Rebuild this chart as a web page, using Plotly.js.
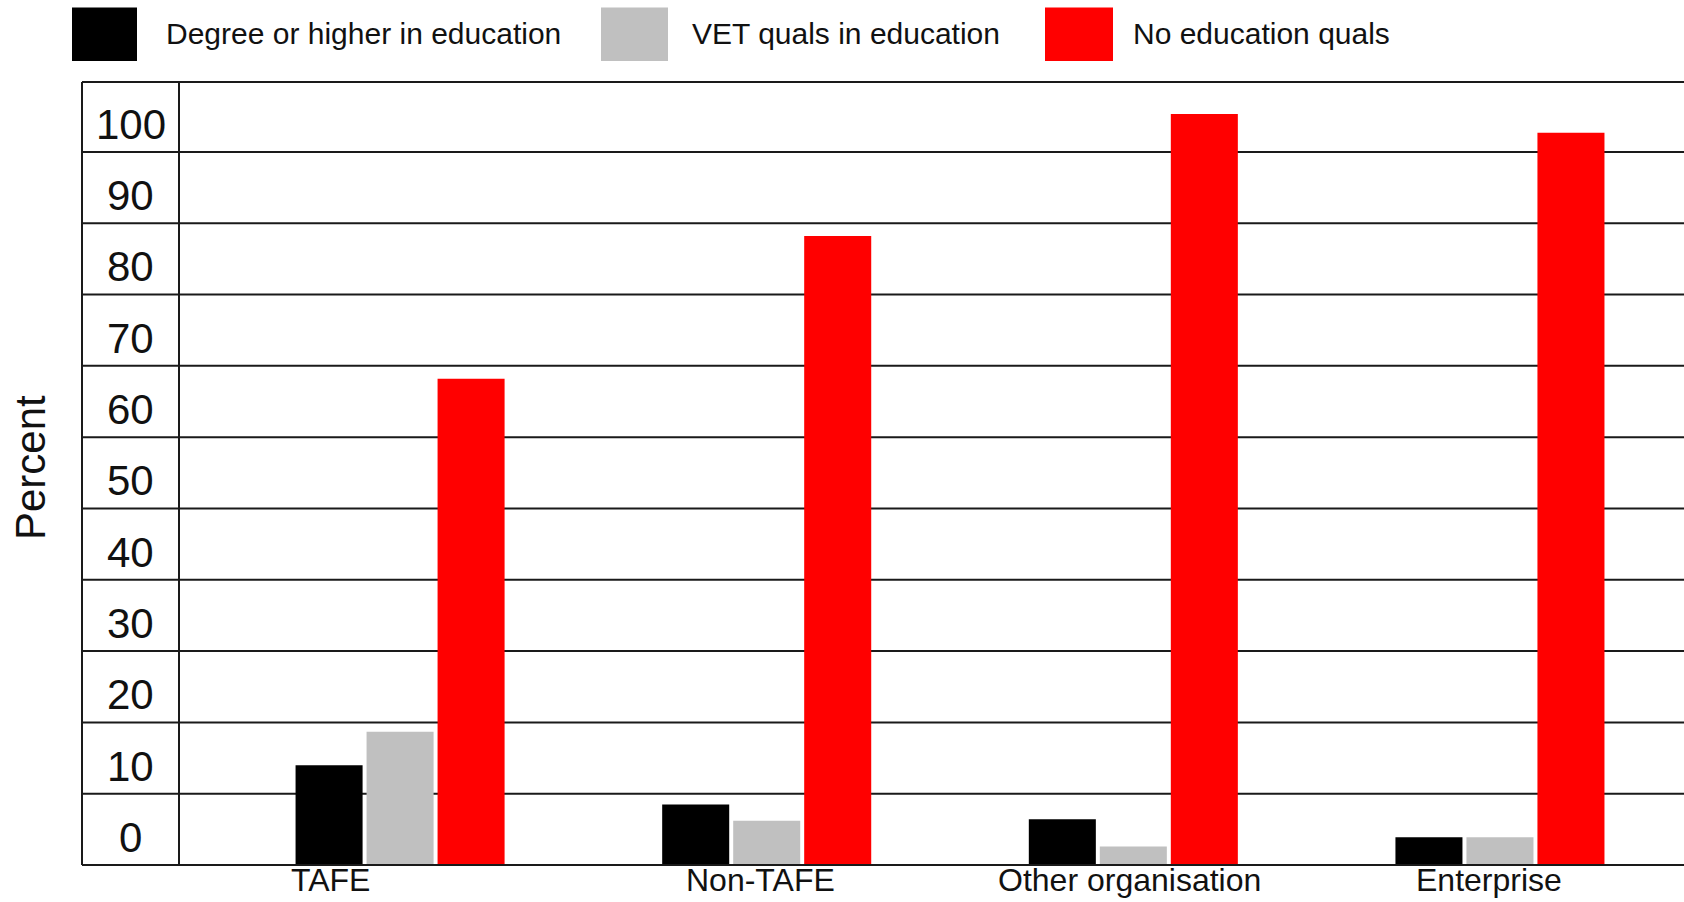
<!DOCTYPE html>
<html>
<head>
<meta charset="utf-8">
<script src="https://cdn.plot.ly/plotly-3.0.1.min.js"></script>
<style>html,body{margin:0;padding:0;background:#fff;}#chart{width:1684px;height:902px;}</style>
</head>
<body>
<div id="chart"></div>
<script>
// ---- data ----
const categories = ["TAFE", "Non-TAFE", "Other organisation", "Enterprise"];
const seriesNames = ["Degree or higher in education", "VET quals in education", "No education quals"];
const degreeValues = [14.0, 8.5, 6.4, 3.9];
const vetValues = [18.7, 6.2, 2.6, 3.9];
const noQualValues = [68.2, 88.2, 105.3, 102.7];
const yTickValues = [0, 10, 20, 30, 40, 50, 60, 70, 80, 90, 100];
const yTickLabels = ["0", "10", "20", "30", "40", "50", "60", "70", "80", "90", "100"];
const yAxisTitle = "Percent";

// ---- style ----
const colors = ["#000000", "#c0c0c0", "#ff0000"];
const FONT = "Liberation Sans, Arial, Helvetica, sans-serif";
const W = 1684, H = 902;
const M = {l: 179, r: 0, t: 82, b: 37};
const plotW = W - M.l - M.r, plotH = H - M.t - M.b;
const px = x => (x - M.l) / plotW;        // page px -> paper x
const py = y => (H - M.b - y) / plotH;    // page px -> paper y
const lineCol = "#1a1a1a";
const colLeft = px(82);
const catLabelShift = [-70, -6, -4, -11];  // horizontal nudges of category labels (px)

const values = [degreeValues, vetValues, noQualValues];
const traces = values.map((v, i) => ({
  type: "bar", x: categories, y: v, name: seriesNames[i],
  marker: {color: colors[i], line: {width: 0}}, showlegend: false, hoverinfo: "skip"
}));

const shapes = [];
// horizontal grid lines extending into the label column
yTickValues.forEach(v => {
  if (v === 0) return;
  shapes.push({type: "line", xref: "paper", yref: "y", x0: colLeft, x1: 1, y0: v, y1: v,
    line: {color: lineCol, width: 2}, layer: "below"});
});
// bottom and top frame
shapes.push({type: "line", xref: "paper", yref: "paper", x0: colLeft, x1: 1, y0: 0, y1: 0, line: {color: lineCol, width: 2}, layer: "above"});
shapes.push({type: "line", xref: "paper", yref: "paper", x0: colLeft, x1: 1, y0: 1, y1: 1, line: {color: lineCol, width: 2}, layer: "above"});
// label column vertical lines
shapes.push({type: "line", xref: "paper", yref: "paper", x0: colLeft, x1: colLeft, y0: 0, y1: 1, line: {color: lineCol, width: 2}});
shapes.push({type: "line", xref: "paper", yref: "paper", x0: 0, x1: 0, y0: 0, y1: 1, line: {color: lineCol, width: 2}});

// legend (drawn manually for large swatches)
const legendSw = [[72, 137], [601, 668], [1045, 1113]];
const legendTx = [164, 690, 1131];
const annotations = [];
seriesNames.forEach((n, i) => {
  shapes.push({type: "rect", xref: "paper", yref: "paper", x0: px(legendSw[i][0]), x1: px(legendSw[i][1]),
    y0: py(61), y1: py(7.5), fillcolor: colors[i], line: {width: 0}});
  annotations.push({xref: "paper", yref: "paper", x: px(legendTx[i]), y: py(34), xanchor: "left", yanchor: "middle",
    text: n, showarrow: false, font: {family: FONT, size: 30, color: "#111"}});
});

// y tick labels centred in the label column, in the band above each grid line
yTickValues.forEach((v, i) => {
  annotations.push({xref: "paper", yref: "y", x: px(130.5), y: v + 5, yshift: -8, xanchor: "center", yanchor: "middle",
    text: yTickLabels[i], showarrow: false, font: {family: FONT, size: 42, color: "#111"}});
});
// category labels under the axis
categories.forEach((c, i) => {
  annotations.push({xref: "x", yref: "paper", x: c, y: 0, yshift: 5, xshift: catLabelShift[i],
    xanchor: "center", yanchor: "top", text: c, showarrow: false,
    font: {family: FONT, size: 32, color: "#111"}});
});
// y axis title
annotations.push({xref: "paper", yref: "paper", x: px(30), y: py(468), xanchor: "center", yanchor: "middle",
  text: yAxisTitle, textangle: -90, showarrow: false, font: {family: FONT, size: 42, color: "#111"}});

const layout = {
  width: W, height: H,
  margin: M,
  paper_bgcolor: "#ffffff", plot_bgcolor: "#ffffff",
  barmode: "group", bargap: 0.419, bargroupgap: 0.056,
  showlegend: false,
  xaxis: {type: "category", range: [-0.603, 3.502], showgrid: false, zeroline: false, showline: false,
    showticklabels: false, ticks: "", fixedrange: true},
  yaxis: {range: [0, 109.8], showgrid: false, zeroline: false, showline: false, showticklabels: false,
    ticks: "", fixedrange: true},
  shapes: shapes,
  annotations: annotations,
  font: {family: FONT}
};

Plotly.newPlot("chart", traces, layout, {displayModeBar: false, staticPlot: true});
</script>
</body>
</html>
